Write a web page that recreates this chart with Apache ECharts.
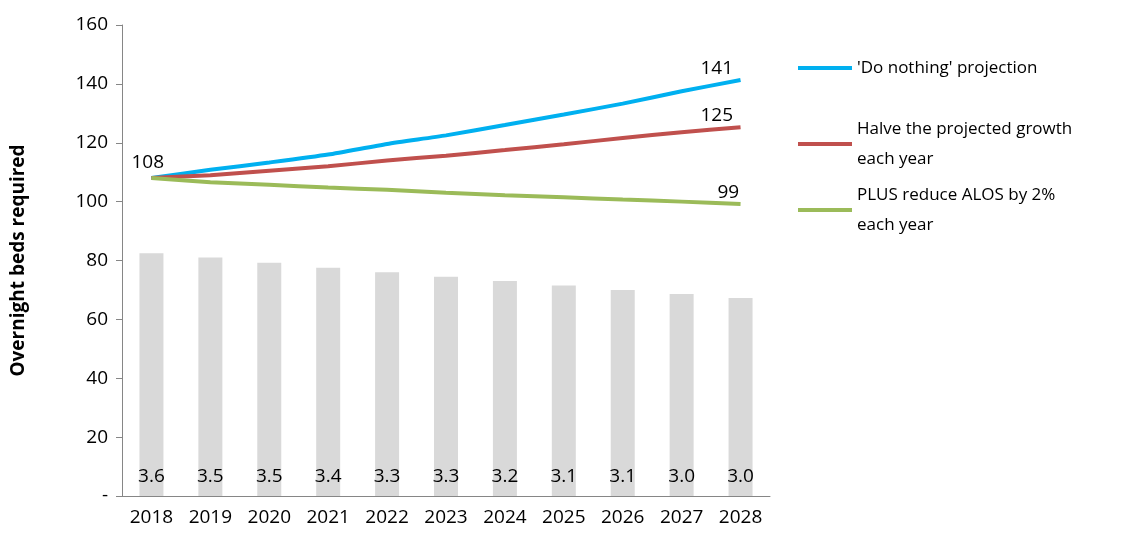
<!DOCTYPE html><html><head><meta charset="utf-8"><script src="https://cdn.jsdelivr.net/npm/echarts@6/dist/echarts.min.js"></script></head><body style="margin:0"><div id="c" style="width:1122px;height:541px"></div><script>
const years=['2018','2019','2020','2021','2022','2023','2024','2025','2026','2027','2028'];
const bars=[82.5,81,79.2,77.5,76,74.5,73,71.5,70,68.6,67.3];
const alos=['3.6','3.5','3.5','3.4','3.3','3.3','3.2','3.1','3.1','3.0','3.0'];
const doNothing=[108,110.8,113.3,116,119.6,122.5,126,129.6,133.3,137.5,141.3];
const halve=[108,109,110.5,112,114,115.6,117.5,119.5,121.6,123.6,125.3];
const alosReduce=[108,106.6,105.7,104.8,104,103,102.2,101.5,100.7,100,99.2];
const names=["'Do nothing' projection","Halve the projected growth\neach year","PLUS reduce ALOS by 2%\neach year"];
const F='"Open Sans", sans-serif';
const lt={fontSize:17,fontFamily:F,color:'#000',lineHeight:30};
function lg(n,top){return {orient:'vertical',left:793,top:top,itemWidth:54,itemHeight:4,icon:'rect',textStyle:lt,data:[n]};}
function lab(dx,first){return {show:true,position:[dx,-21],fontSize:19,color:'#000',fontFamily:F,formatter:p=>(p.dataIndex===10||(first&&p.dataIndex===0))?Math.round(p.value):''};}
const greenData=alosReduce.map((v,i)=>i===0?{value:v,label:{position:[-20,-25]}}:v);
const chart=echarts.init(document.getElementById('c'));
chart.setOption({animation:false,
grid:{left:122,right:352,top:25,bottom:45},
legend:[lg(names[0],48),lg(names[1],109),lg(names[2],175)],
xAxis:{type:'category',data:years,axisLine:{lineStyle:{color:'#868686'}},axisTick:{length:6,lineStyle:{color:'#868686'}},axisLabel:{fontSize:19,color:'#000',fontFamily:F,margin:12}},
yAxis:{type:'value',min:0,max:160,interval:20,name:'Overnight beds required',nameLocation:'middle',nameGap:94,nameTextStyle:{fontSize:19,fontWeight:'bold',color:'#000',fontFamily:F},
 axisLine:{show:true,lineStyle:{color:'#868686'}},axisTick:{show:true,length:6,lineStyle:{color:'#868686'}},splitLine:{show:false},
 axisLabel:{fontSize:19,color:'#000',fontFamily:F,margin:14,formatter:v=>v===0?'-':v}},
series:[
{type:'bar',data:bars,barWidth:24,itemStyle:{color:'#d9d9d9'},silent:true,
 label:{show:true,position:'insideBottom',distance:10,fontSize:19,color:'#000',fontFamily:F,formatter:p=>alos[p.dataIndex]}},
{name:names[0],type:'line',data:doNothing,symbol:'circle',symbolSize:0.1,smooth:0.2,lineStyle:{width:4,color:'#00b0f0'},itemStyle:{color:'#00b0f0'},label:lab(-40,false)},
{name:names[1],type:'line',data:halve,symbol:'circle',symbolSize:0.1,smooth:0.2,lineStyle:{width:4,color:'#c0504d'},itemStyle:{color:'#c0504d'},label:lab(-40,false)},
{name:names[2],type:'line',data:greenData,symbol:'circle',symbolSize:0.1,smooth:0.2,lineStyle:{width:4,color:'#9bbb59'},itemStyle:{color:'#9bbb59'},label:lab(-23,true)}
]});
</script></body></html>
